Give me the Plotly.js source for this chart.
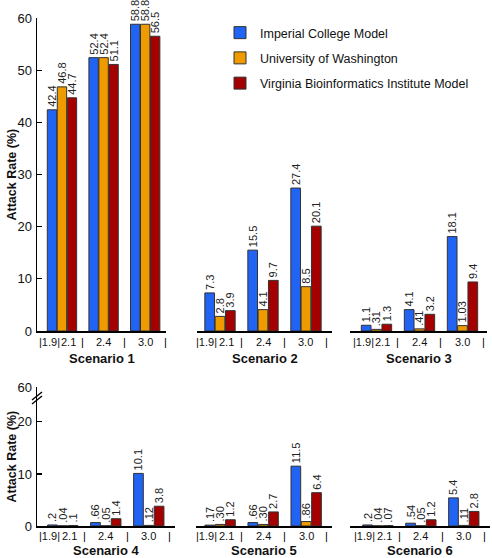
<!DOCTYPE html>
<html><head><meta charset="utf-8">
<script src="https://cdn.plot.ly/plotly-3.0.1.min.js"></script>
<style>html,body{margin:0;padding:0;background:#fff}</style>
</head><body><div id="chart" style="width:492px;height:558px"></div>
<script>
// ---- data ----
const models = ['Imperial College Model', 'University of Washington', 'Virginia Bioinformatics Institute Model'];
const scenarios = ['Scenario 1', 'Scenario 2', 'Scenario 3', 'Scenario 4', 'Scenario 5', 'Scenario 6'];
const groupX = [0, 1, 2];
const r0Labels = ['|1.9|', '2.1', '2.4', '3.0'];
const imperialValues = [[42.4, 52.4, 58.8], [7.3, 15.5, 27.4], [1.1, 4.1, 18.1], [0.2, 0.66, 10.1], [0.17, 0.66, 11.5], [0.2, 0.54, 5.4]];
const washingtonValues = [[46.8, 52.4, 58.8], [2.8, 4.1, 8.5], [0.31, 0.41, 1.03], [0.04, 0.05, 0.12], [0.30, 0.30, 0.86], [0.04, 0.05, 0.11]];
const virginiaValues = [[44.7, 51.1, 56.5], [3.9, 9.7, 20.1], [1.3, 3.2, 9.4], [0.1, 1.4, 3.8], [1.2, 2.7, 6.4], [0.07, 1.2, 2.8]];
const imperialLabels = [['42.4', '52.4', '58.8'], ['7.3', '15.5', '27.4'], ['1.1', '4.1', '18.1'], ['.2', '.66', '10.1'], ['.17', '.66', '11.5'], ['.2', '.54', '5.4']];
const washingtonLabels = [['46.8', '52.4', '58.8'], ['2.8', '4.1', '8.5'], ['.31', '.41', '1.03'], ['.04', '.05', '.12'], ['.30', '.30', '.86'], ['.04', '.05', '.11']];
const virginiaLabels = [['44.7', '51.1', '56.5'], ['3.9', '9.7', '20.1'], ['1.3', '3.2', '9.4'], ['.1', '1.4', '3.8'], ['1.2', '2.7', '6.4'], ['.07', '1.2', '2.8']];
const topTickVals = [0, 10, 20, 30, 40, 50, 60];
const bottomTickText = ['0', '10', '20', '60'];

// ---- styling / layout ----
const W = 492, H = 558;
const colors = ['#2163f3', '#ef9b00', '#a50000'];
const FONT = 'Liberation Sans, Arial, Helvetica, sans-serif';
const allValues = [imperialValues, washingtonValues, virginiaValues];
const allLabels = [imperialLabels, washingtonLabels, virginiaLabels];

// pixel extents of each panel's x axis and its data range
const panels = [
  {px: [37, 166], range: [-0.6, 2.5], row: 0},
  {px: [197, 332], range: [-0.535, 2.605], row: 0},
  {px: [350, 487], range: [-0.616, 2.57], row: 0},
  {px: [37, 175], range: [-0.6, 2.61], row: 1},
  {px: [196, 332], range: [-0.56, 2.6], row: 1},
  {px: [350, 490], range: [-0.65, 2.61], row: 1}
];
const rows = [
  {py: [18, 331], range: [0, 60]},
  {py: [387, 526], range: [0, 26.7]}
];
const bottomTickVals = [0, 10, 20, 26.68];
const labelPos = [-0.31, 0.15, 1, 2];
const sepPos = [0.5, 1.5, 2.48];

const traces = [];
const layout = {
  width: W, height: H,
  margin: {l: 0, r: 0, t: 0, b: 0},
  paper_bgcolor: '#fff', plot_bgcolor: 'rgba(0,0,0,0)',
  barmode: 'group', bargap: 0.28, bargroupgap: 0.06,
  showlegend: true,
  legend: {x: 220 / W, y: (H - 18) / H, xanchor: 'left', yanchor: 'top',
    font: {family: FONT, size: 12.5, color: '#111'}, tracegroupgap: 6, bgcolor: 'rgba(0,0,0,0)'},
  font: {family: FONT, color: '#111'},
  annotations: [], shapes: []
};

panels.forEach((p, i) => {
  const n = i + 1;
  const xa = n === 1 ? 'xaxis' : 'xaxis' + n;
  const ya = n === 1 ? 'yaxis' : 'yaxis' + n;
  const xr = n === 1 ? 'x' : 'x' + n;
  const yr = n === 1 ? 'y' : 'y' + n;
  const row = rows[p.row];
  layout[xa] = {
    domain: [p.px[0] / W, p.px[1] / W], range: p.range, anchor: yr,
    showline: true, linecolor: '#000', linewidth: 2, showticklabels: false,
    ticks: '', showgrid: false, zeroline: false, fixedrange: true
  };
  const showY = (n === 1 || n === 4);
  layout[ya] = {
    domain: [(H - row.py[1]) / H, (H - row.py[0]) / H], range: row.range, anchor: xr,
    visible: showY, showline: true, linecolor: '#000', linewidth: 1.5,
    ticks: 'inside', ticklen: 5, tickcolor: '#000', tickwidth: 1.2,
    showgrid: false, zeroline: false, fixedrange: true,
    tickfont: {family: FONT, size: 13, color: '#111'}, ticklabelstandoff: 1
  };
  if (p.row === 0) {
    layout[ya].tickvals = topTickVals;
  } else {
    layout[ya].tickvals = bottomTickVals;
    layout[ya].ticktext = bottomTickText;
  }
  models.forEach((m, k) => {
    traces.push({
      type: 'bar', name: m, x: groupX, y: allValues[k][i], text: allLabels[k][i],
      xaxis: xr, yaxis: yr, legendgroup: 'g' + k, showlegend: n === 1,
      marker: {color: colors[k], line: {color: '#333', width: 1}},
      textposition: 'outside', textangle: -90, cliponaxis: false, constraintext: 'none',
      textfont: {family: FONT, size: 11, color: '#222'}, hoverinfo: 'skip'
    });
  });
  // R0 tick labels and group separators
  const shiftLab = p.row === 0 ? -4 : -3;
  r0Labels.forEach((t, j) => {
    layout.annotations.push({text: t, x: labelPos[j], xref: xr, y: 0, yref: yr + ' domain',
      yanchor: 'top', xanchor: 'center', yshift: shiftLab, showarrow: false, borderpad: 0,
      font: {family: FONT, size: 11, color: '#111'}});
  });
  sepPos.forEach(sx => {
    layout.annotations.push({text: '|', x: sx, xref: xr, y: 0, yref: yr + ' domain',
      yanchor: 'top', xanchor: 'center', yshift: shiftLab, showarrow: false, borderpad: 0,
      font: {family: FONT, size: 11, color: '#000'}});
  });
  // scenario title
  layout.annotations.push({text: '<b>' + scenarios[i] + '</b>', x: 0.5, xref: xr + ' domain',
    y: 0, yref: yr + ' domain', yanchor: 'top', xanchor: 'center',
    yshift: p.row === 0 ? -19 : -16, showarrow: false, borderpad: 0,
    font: {family: FONT, size: 13, color: '#111'}});
});

// y axis titles
[['y domain', 0.5], ['y4 domain', 0.5]].forEach(([ref, yy]) => {
  layout.annotations.push({text: '<b>Attack Rate (%)</b>', textangle: -90, x: 11 / W, xref: 'paper',
    y: yy, yref: ref, xanchor: 'center', yanchor: 'middle', showarrow: false,
    font: {family: FONT, size: 12.5, color: '#111'}});
});

// axis break marks on lower y axis
[[0, 0], [0, -4]].forEach(([dx, dy]) => {
  layout.shapes.push({type: 'line', xref: 'paper', yref: 'paper',
    x0: (32 + dx) / W, y0: (H - (404 + dy)) / H, x1: (42 + dx) / W, y1: (H - (396 + dy)) / H,
    line: {color: '#000', width: 1.5}});
});

Plotly.newPlot('chart', traces, layout, {displayModeBar: false, staticPlot: true});
</script></body></html>
